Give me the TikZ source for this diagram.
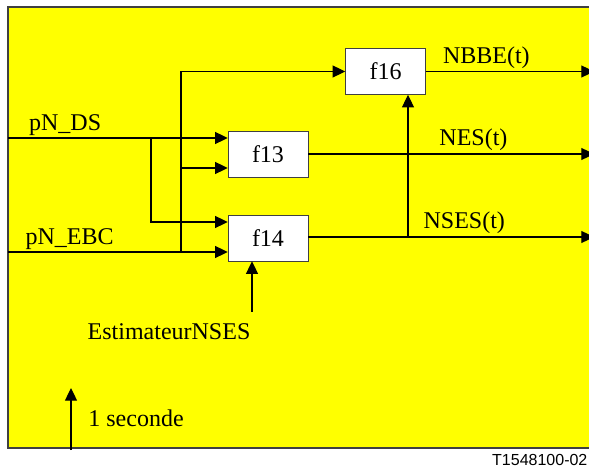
\documentclass[tikz,border=0pt]{standalone}
\usepackage{fontspec}
\setmainfont{Liberation Serif}
\setsansfont{Liberation Sans}
\usepackage{tikz}
\usetikzlibrary{positioning,arrows.meta,calc}
\definecolor{bg}{rgb}{1,1,0}
\definecolor{edge}{rgb}{0.25,0.25,0.25}

\begin{document}
\begin{tikzpicture}[
    x=0.75pt, y=-0.75pt,
    every node/.style={font=\fontsize{18}{20}\selectfont},
    fbox/.style={
        rectangle, draw=edge, thin, fill=white,
        minimum width=60pt, minimum height=34.5pt, align=center
    },
    sig/.style={-{Triangle[length=9.5pt,width=9pt]}, line width=0.9pt},
    wire/.style={line width=0.9pt},
    lbl/.style={inner sep=1pt}
]
\useasboundingbox (0,0) rectangle (589,470);

% Background panel
\fill[bg] (8,7) rectangle (595,448);
\draw[edge, line width=0.8pt] (595,7) -- (8,7) -- (8,448) -- (595,448);

% y coords
\def\yTop{71}    % f16 input / NBBE
\def\yDS{138}    % pN_DS
\def\yB{168}     % second input of f13
\def\yC{222}     % first input of f14
\def\yEBC{252}   % pN_EBC
\def\yOut{237}   % f14 output

% Blocks
\node[fbox] (f16) at (385.5,71.5) {f16};
\node[fbox] (f13) at (268,154)    {f13};
\node[fbox] (f14) at (268,238)    {f14};

% Free ends and junctions
\coordinate (ds)   at (8,\yDS);
\coordinate (ebc)  at (8,\yEBC);
\coordinate (jA)   at (151,\yDS);
\coordinate (jB)   at (181,\yEBC);
\coordinate (jC)   at (408,\yOut);
\coordinate (oA)   at (594,71.5);
\coordinate (oB)   at (594,154);
\coordinate (oC)   at (594,\yOut);
\coordinate (est)  at (252,312);
\coordinate (clk)  at (71,450);
\coordinate (clkT) at (71,388);

% ── Inputs ──────────────────────────────────────────────────
\draw[sig] (ds) -- node[lbl, above, pos=0.26] {pN\_DS} (f13.west |- 0,\yDS);
\draw[sig] (jA) |- (f14.west |- 0,\yC);
\draw[sig] (ebc) -- node[lbl, above, pos=0.28] {pN\_EBC} (f14.west |- 0,\yEBC);
\draw[sig] (jB) |- (f16.west);
\draw[sig] (jB |- 0,\yB) -- (f13.west |- 0,\yB);

% ── Outputs ─────────────────────────────────────────────────
\draw[sig] (f16.east) -- node[lbl, above=1pt, pos=0.36] {NBBE(t)} (oA);
\draw[sig] (f13.east) -- node[lbl, above=1pt, pos=0.578] {NES(t)} (oB);
\draw[sig] (f14.east |- 0,\yOut) -- node[lbl, above=1pt, pos=0.546] {NSES(t)} (oC);
\draw[sig] (jC) -- (jC |- f16.south);

% ── Estimator and clock ─────────────────────────────────────
\node[lbl] (estL) at (169,332) {EstimateurNSES};
\draw[sig] (est) -- (est |- f14.south);
\draw[sig] (clk) -- (clkT);
\node[lbl] (clkL) at (136,418) {1 seconde};

\node[lbl, anchor=east, font=\sffamily\fontsize{12}{14}\selectfont] (ref) at (589,460) {T1548100-02};

\end{tikzpicture}
\end{document}
